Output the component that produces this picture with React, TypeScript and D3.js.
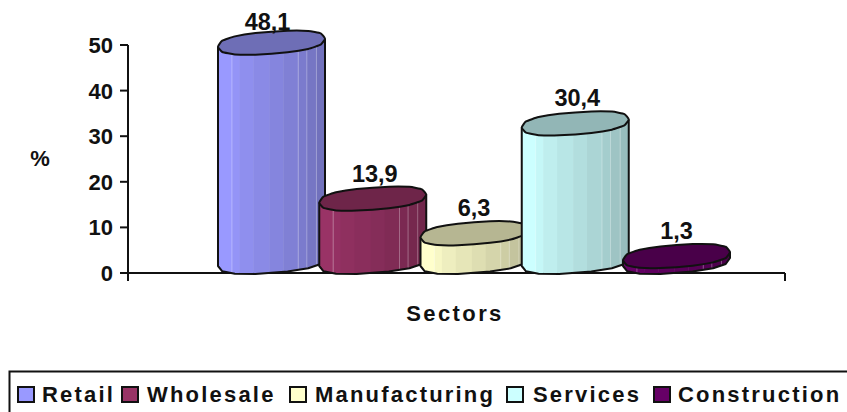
import React from "react";
import * as d3 from "d3";

const categories = ["Retail", "Wholesale", "Manufacturing", "Services", "Construction"];
const values = [48.1, 13.9, 6.3, 30.4, 1.3];
const labels = ["48,1", "13,9", "6,3", "30,4", "1,3"];
const colors = ["#9999FF", "#993366", "#FFFFCC", "#CCFFFF", "#660066"];
const yTicks = [0, 10, 20, 30, 40, 50];
const bandStops = [0, 0.13, 0.2, 0.33, 0.48, 0.61, 0.75, 0.83, 0.92, 1];
const shineStops = [0.13, 0.75, 0.83, 0.92];
const legendSwatchX = [18, 122, 290, 507, 654];
const legendTextX = [42, 147, 315, 533, 678];
const labelNudgeX = [-4, 2, 0, 2, 0];

const FONT = "'Liberation Sans', Arial, sans-serif";
const y = d3.scaleLinear().domain([0, 50]).range([273, 45]);
const x = d3.scalePoint<string>().domain(categories).range([271.5, 676.5]);
const RX = 53.5, RY = 11, TILT = 4, DEPTH = 11;

const ringPt = (cx: number, cy: number, t: number): [number, number] => {
  const c = Math.cos(t), s = Math.sin(t);
  // slightly squarer than an ellipse, like the low-polygon original
  const sx = Math.sign(c) * Math.pow(Math.abs(c), 0.8);
  const sy = Math.sign(s) * Math.pow(Math.abs(s), 0.8);
  return [cx + RX * sx, cy + RY * sy - TILT * sx];
};
const capPath = (cx: number, cy: number) => {
  const pts = d3.range(14).map((i) => ringPt(cx, cy, (i / 14) * 2 * Math.PI));
  return d3.line().curve(d3.curveCardinalClosed.tension(0.6))(pts) as string;
};
const bodyPath = (cx: number, top: number, base: number) => {
  const lower = d3.range(0, 8).map((i) => ringPt(cx, base, (i / 7) * Math.PI));
  const p = [ringPt(cx, top, 0), ...lower, ringPt(cx, top, Math.PI)];
  return d3.line()(p) as string;
};

export default function App() {
  return (
    <svg width={847} height={412} style={{ position: "absolute", left: 0, top: 0, background: "#fff" }} fontFamily={FONT} fontWeight="bold" fill="#111">
      <line x1={128} x2={128} y1={45} y2={281} stroke="#111" strokeWidth={2} />
      <line x1={120} x2={785} y1={273} y2={273} stroke="#111" strokeWidth={2} />
      <line x1={785} x2={785} y1={273} y2={281} stroke="#111" strokeWidth={2} />
      {yTicks.map((t) => (
        <g key={t}>
          <line x1={120} x2={128} y1={y(t)} y2={y(t)} stroke="#111" strokeWidth={2} />
          <text x={113} y={y(t) + 8} fontSize={22} textAnchor="end">{t}</text>
        </g>
      ))}
      <text x={40} y={166} fontSize={22} textAnchor="middle">%</text>
      <text x={455} y={321} fontSize={22} textAnchor="middle" letterSpacing={2.4}>Sectors</text>

      {categories.map((c, i) => {
        const cx = x(c) as number;
        const base = y(0) - DEPTH;
        const top = y(values[i]) - DEPTH;
        const body = bodyPath(cx, top, base);
        const shade = d3.interpolateRgb(colors[i], d3.rgb(colors[i]).darker(0.85).formatHex());
        const capFill = d3.rgb(shade(1));
        capFill.r *= 0.97; capFill.g *= 0.97; capFill.b *= 0.97;
        const bx = (f: number) => cx - RX + f * 2 * RX;
        return (
          <g key={c}>
            <clipPath id={`clip${i}`}><path d={body} /></clipPath>
            <g clipPath={`url(#clip${i})`}>
              {bandStops.slice(0, -1).map((s, j) => (
                <rect key={j} x={bx(s)} width={bx(bandStops[j + 1]) - bx(s) + 0.5} y={top - 10} height={base - top + 40} fill={shade(j / (bandStops.length - 2))} />
              ))}
              {shineStops.map((s) => (
                <line key={s} x1={bx(s)} x2={bx(s)} y1={top} y2={base + 14} stroke="#fff" strokeOpacity={0.3} strokeWidth={1} />
              ))}
            </g>
            <path d={body} fill="none" stroke="#111" strokeWidth={2} strokeLinejoin="round" />
            <path d={capPath(cx, top)} fill={capFill.formatHex()} stroke="#111" strokeWidth={2} strokeLinejoin="round" />
            <text x={cx + labelNudgeX[i]} y={Math.max(30, top - 17)} fontSize={23.5} textAnchor="middle">{labels[i]}</text>
          </g>
        );
      })}

      <path d="M847 371.5H9.5V412" fill="none" stroke="#111" strokeWidth={2} />
      {categories.map((c, i) => (
        <g key={c}>
          <rect x={legendSwatchX[i]} y={387} width={16} height={15} fill={colors[i]} stroke="#111" strokeWidth={2} />
          <text x={legendTextX[i]} y={402} fontSize={22} letterSpacing={2.2}>{c}</text>
        </g>
      ))}
    </svg>
  );
}
